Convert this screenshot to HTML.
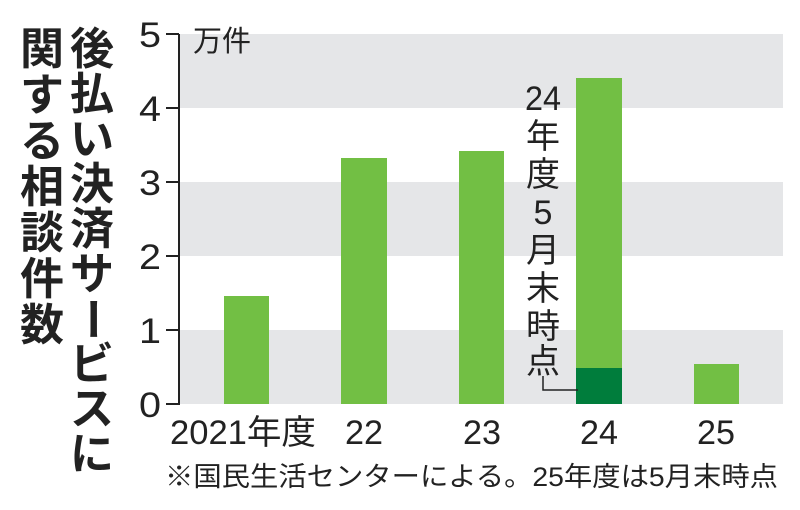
<!DOCTYPE html>
<html><head><meta charset="utf-8"><style>
body{margin:0;background:#fff;width:800px;height:505px;overflow:hidden;font-family:"Liberation Sans","Noto Sans CJK JP",sans-serif}
</style></head><body>
<svg width="800" height="505" xmlns="http://www.w3.org/2000/svg" style="font-family:'Liberation Sans','Noto Sans CJK JP',sans-serif">
<rect x="180" y="34" width="603" height="74" fill="#e5e6e8"/>
<rect x="180" y="182" width="603" height="74" fill="#e5e6e8"/>
<rect x="180" y="330" width="603" height="74" fill="#e5e6e8"/>
<g fill="#72bf44">
<rect x="224" y="296" width="45" height="108"/>
<rect x="341" y="158" width="46" height="246"/>
<rect x="459" y="151" width="45" height="253"/>
<rect x="576" y="78" width="46" height="326"/>
<rect x="694" y="364" width="45" height="40"/>
</g>
<rect x="576" y="368" width="46" height="36" fill="#007d3c"/>
<g stroke="#222" stroke-width="2" fill="none">
<path d="M179 34V405"/>
<path d="M166 34H179M166 108H179M166 182H179M166 256H179M166 330H179M166 404H179"/>
<path d="M543 376V390H578" stroke-width="1.5"/>
</g>
<g font-size="35" fill="#222" text-anchor="end">
<text x="161" y="47" textLength="22" lengthAdjust="spacingAndGlyphs">5</text><text x="161" y="121" textLength="22" lengthAdjust="spacingAndGlyphs">4</text><text x="161" y="195" textLength="22" lengthAdjust="spacingAndGlyphs">3</text>
<text x="161" y="269" textLength="22" lengthAdjust="spacingAndGlyphs">2</text><text x="161" y="343" textLength="22" lengthAdjust="spacingAndGlyphs">1</text><text x="161" y="417" textLength="22" lengthAdjust="spacingAndGlyphs">0</text>
</g>
<text x="193" y="51" font-size="29" fill="#222">万件</text>
<g font-size="34" fill="#222" text-anchor="middle">
<text x="243" y="444" textLength="146" lengthAdjust="spacingAndGlyphs">2021年度</text>
<text x="364" y="444" textLength="38" lengthAdjust="spacingAndGlyphs">22</text><text x="482" y="444" textLength="38" lengthAdjust="spacingAndGlyphs">23</text>
<text x="599" y="444" textLength="38" lengthAdjust="spacingAndGlyphs">24</text><text x="716" y="444" textLength="38" lengthAdjust="spacingAndGlyphs">25</text>
</g>
<text x="165" y="486" font-size="27" fill="#222" textLength="613" lengthAdjust="spacingAndGlyphs">※国民生活センターによる。25年度は5月末時点</text>
<g font-size="34" fill="#222" text-anchor="middle">
<text x="543" y="110" textLength="36" lengthAdjust="spacingAndGlyphs">24</text>
<text x="543" y="148">年</text><text x="543" y="186">度</text><text x="543" y="224">5</text>
<text x="543" y="262">月</text><text x="543" y="300">末</text><text x="543" y="338">時</text><text x="543" y="373">点</text>
</g>
<g font-size="44" font-weight="bold" fill="#222" text-anchor="middle">
<text x="42" y="64">関</text><text x="42" y="110">す</text><text x="42" y="156">る</text>
<text x="42" y="202">相</text><text x="42" y="248">談</text><text x="42" y="294">件</text><text x="42" y="340">数</text>
<text x="92" y="64">後</text><text x="92" y="109">払</text><text x="92" y="154">い</text>
<text x="92" y="199">決</text><text x="92" y="244">済</text><text x="92" y="289">サ</text>
<text x="92" y="334" transform="rotate(90 92 319)">ー</text>
<text x="92" y="379">ビ</text><text x="92" y="424">ス</text><text x="92" y="469">に</text>
</g>
</svg>
</body></html>
